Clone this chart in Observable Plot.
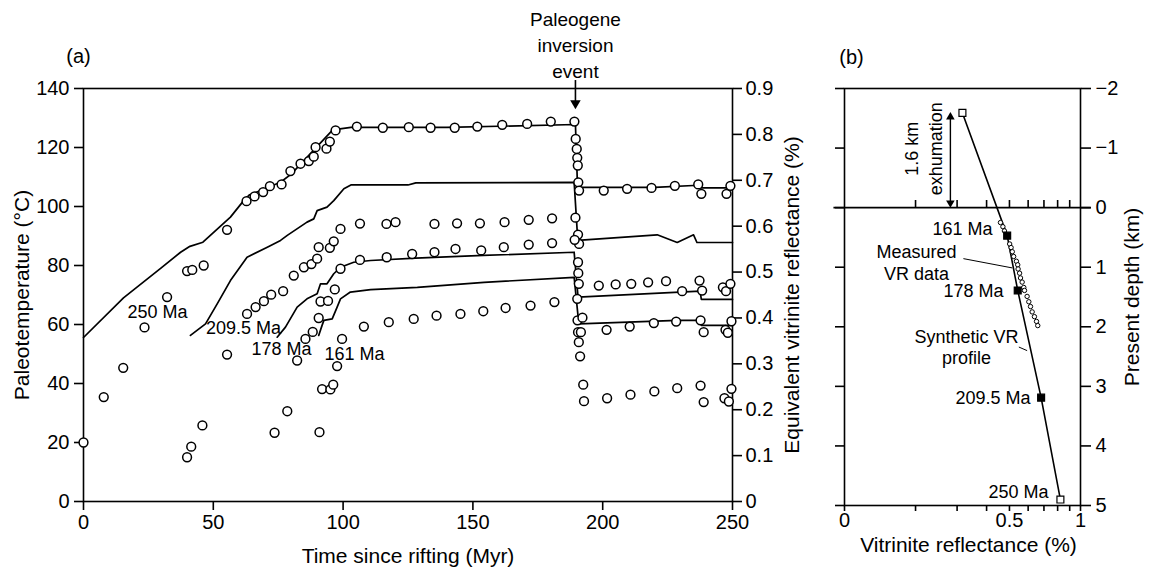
<!DOCTYPE html>
<html><head><meta charset="utf-8">
<script src="https://cdn.jsdelivr.net/npm/d3@7"></script>
<script src="https://cdn.jsdelivr.net/npm/@observablehq/plot@0.6"></script>
<style>
body{margin:0;background:#fff;}
#wrap{position:relative;width:1152px;height:571px;overflow:hidden;background:#fff;}
#wrap svg{position:absolute;top:0;}
</style></head><body><div id="wrap"></div>
<script>
// ---------- Panel (a) data: [time since rifting (Myr), paleotemperature (°C)] ----------
const line250 = [[0,55.6],[15.4,69],[29.7,79],[37.4,84.5],[41,86.5],[46,87.9],[56.6,96.4],[61.7,102],[64,104],[70,106],[76,108.3],[80,111],[88.6,119],[96,126],[103,126.8],[140,126.8],[189.5,127.8],[190.3,106.5],[220,106.5],[237,107.2],[238,106.3],[250,106.3]];
const line209 = [[41.2,56.3],[47,60.2],[51.5,67],[56.6,74.9],[63,82.8],[70.8,86.2],[75.9,88.5],[78.5,90.2],[86.1,94.7],[88.7,95.8],[90,98.6],[93.8,99.8],[96.4,102],[100.3,106],[103,107.3],[125,107.3],[128,108],[189,108.2],[190.4,88.5],[221,90.4],[228.7,87.8],[235,90.4],[236.3,87.8],[250,87.8]];
const line178 = [[74.6,55.7],[77.8,59.1],[82.3,65.9],[86.1,68.7],[90,70.4],[91.3,73.8],[93.8,73.8],[96.4,77.2],[99,79.4],[104.1,81.1],[110.6,81.7],[128,82.5],[154,83.4],[189,84.5],[190.5,69.3],[237.5,71.3],[238,68.5],[250,68.5]];
const line161 = [[90.6,56.3],[91.9,59.7],[92.6,61.4],[95.8,61.9],[97.7,65.9],[99,68.7],[102.8,71],[110.6,71.8],[128.6,72.6],[154.3,74.3],[189,76],[190.8,60.2],[228.7,61.4],[237.7,61.4],[238,59.7],[250,59.7]];

const circles250 = [[0,20],[7.8,35.4],[15.3,45.3],[23.5,59],[32.2,69.3],[39.9,78.1],[41.9,78.5],[46.3,80],[55.3,92.1],[62.8,101.8],[65.9,103.4],[69.2,104.9],[71.8,106.9],[76.3,107.5],[79.7,112],[83.6,114.5],[86.8,115.4],[88.7,116.9],[89.4,120.1],[93.6,119.6],[94.9,122],[97.1,125.8],[105.3,127.1],[115.3,126.7],[125.3,126.9],[133.7,126.7],[143,126.7],[151.7,127.1],[161.3,127.7],[170.9,128],[180,128.8],[189.1,128.8],[189.6,122.9],[190,119.5],[190.2,116.5],[190.4,113.9],[190.6,108.2],[190.9,105.4],[200.4,105.4],[209.4,106],[218.8,106.3],[227.8,107],[236.8,107.5],[238,104.3],[247.7,104.3],[249.2,107]];
const circles209 = [[39.9,15],[41.5,18.6],[45.8,25.8],[55.3,49.8],[63,63.6],[66.3,65.9],[69.5,67.9],[72.3,70.1],[76.9,71.3],[81,76.6],[84.9,79.4],[87.8,80.5],[90,82.3],[90.6,86.2],[94.9,86],[96.4,88.2],[99,92.4],[106.5,94.2],[116.7,94.1],[120.2,94.7],[135.2,94.1],[143.9,94.3],[152.7,94.3],[162.2,94.7],[171.5,95.5],[180.5,96],[189.5,96.2],[190.5,90.5],[190.9,87.3],[190.5,81.1],[190.6,77.4],[198.5,73.2],[205,73.6],[211,73.8],[217.5,74.3],[224.4,74.7],[230.6,71.3],[237.3,74.9],[238.3,71.5],[246.3,72.6],[247.5,71.3],[249.2,73.8]];
const circles178 = [[73.6,23.3],[78.5,30.6],[82.3,47.8],[85.5,55.1],[88.3,57.5],[90.6,62.2],[91.3,67.8],[94.2,68],[96.8,71.9],[99,78.9],[106.5,81.9],[116.8,82.8],[126.6,83.9],[135.2,84.5],[143.3,85.6],[153.2,85.1],[161.9,86.2],[171.5,87.1],[180.5,87.6],[189.2,88.7],[190.8,73.8],[190.3,61.4],[192.2,62.3],[201.5,58.2],[210.4,59.3],[219.7,60.5],[228.3,61],[237.7,61.4],[238.9,57.4],[247.3,58.2],[248.2,57.2],[249.6,61.1]];
const circles161 = [[90.9,23.5],[91.9,38.1],[95.1,38],[96.2,39.6],[97.7,45.9],[99.6,55.1],[108,59.3],[117.6,60.8],[127.2,61.9],[136,63],[145.2,63.6],[154,64.5],[162.6,65.6],[172.2,66.4],[181.4,67.6],[190.2,68.7],[190.5,57.4],[191.6,57.4],[190.8,54],[191.3,49.2],[192.5,39.6],[192.8,34],[201.7,35],[210.7,36.2],[219.9,37.3],[228.7,38.4],[237.7,39.3],[238.9,33.7],[246.9,35],[248.6,33.9],[249.6,38.2]];

const horizonNames = ["250 Ma", "209.5 Ma", "178 Ma", "161 Ma"];
const horizonLabelPos = [[28.5,64],[61.6,58.6],[76.3,51.5],[104.4,49.8]];
const timeTicks = [0, 50, 100, 150, 200, 250];
const tempTicks = [0, 20, 40, 60, 80, 100, 120, 140];
const vrTicksA = [0, 0.1, 0.2, 0.3, 0.4, 0.5, 0.6, 0.7, 0.8, 0.9];
const inversionTime = 189.5;

// ---------- Panel (b) data: vitrinite reflectance (%) vs present depth (km) ----------
const syntheticVR = [0.316, 0.489, 0.542, 0.681, 0.822];
const syntheticDepth = [-1.59, 0.47, 1.39, 3.19, 4.9];
const squareFilled = [false, true, true, true, false];
const squareLabels = ["", "161 Ma", "178 Ma", "209.5 Ma", "250 Ma"];
const squareLabelPos = [null, [0.424,0.37], [0.472,1.41], [0.614,3.2], [0.732,4.78]];
const measuredVR = [0.458,0.469,0.476,0.489,0.501,0.508,0.514,0.521,0.535,0.542,0.544,0.552,0.557,0.566,0.575,0.579,0.594,0.604,0.614,0.624,0.638,0.651,0.659];
const measuredDepth = [0.25,0.32,0.39,0.47,0.61,0.67,0.74,0.82,0.9,0.96,1.03,1.1,1.18,1.25,1.34,1.39,1.49,1.58,1.66,1.75,1.83,1.91,1.98];
const vrTicksB = [0.1,0.2,0.3,0.4,0.5,0.6,0.7,0.8,0.9,1];
const depthTicks = [-2,-1,0,1,2,3,4,5];
const exhumation = 1.6;

// ---------- build ----------
const FONT = '"Liberation Sans", Arial, sans-serif';
const SW = 1.6;
const pts = (arr, s) => arr.map(([t, T]) => ({t, T, s}));
const lineData = [line250, line209, line178, line161].flatMap((a, i) => pts(a, horizonNames[i]));
const circleData = [circles250, circles209, circles178, circles161].flatMap((a, i) => pts(a, horizonNames[i]));
const horizonLabels = horizonNames.map((n, i) => ({text: n, t: horizonLabelPos[i][0], T: horizonLabelPos[i][1]}));
const vrToT = v => v * 140 / 0.9;
const fmtVR = d => { const v = Math.round(d * 0.9 / 140 * 10) / 10; return v === 0 ? "0" : v.toFixed(1); };

const plotA = Plot.plot({
  width: 800, height: 571,
  marginLeft: 83, marginRight: 68, marginTop: 88, marginBottom: 70,
  style: {fontFamily: FONT, fontSize: "20px", color: "#000", background: "transparent", overflow: "visible"},
  x: {domain: [0, 250]},
  y: {domain: [0, 140]},
  marks: [
    Plot.frame({stroke: "#000", strokeWidth: SW}),
    Plot.axisX({ticks: timeTicks, tickSize: 9, tickPadding: 4, label: null, strokeWidth: SW}),
    Plot.axisY({anchor: "left", ticks: tempTicks, tickSize: 9, tickPadding: 5, label: null, strokeWidth: SW}),
    Plot.axisY({anchor: "right", ticks: vrTicksA.map(vrToT), tickFormat: fmtVR, tickSize: 9, tickPadding: 4, label: null, strokeWidth: SW}),
    Plot.line(lineData, {x: "t", y: "T", z: "s", stroke: "#000", strokeWidth: 1.7}),
    Plot.dot(circleData, {x: "t", y: "T", r: 4.4, stroke: "#000", fill: "#fff", strokeWidth: 1.5}),
    Plot.text(horizonLabels, {x: "t", y: "T", text: "text", fontSize: 18, fill: "#000"}),
    Plot.ruleX([inversionTime], {y1: 142.7, y2: 135, stroke: "#000", strokeWidth: 1.6}),
    Plot.dot([inversionTime], {x: d => d, y: 135, symbol: "triangle", rotate: 180, r: 3.9, fill: "#000", stroke: "none"}),
    Plot.text(["Paleogene\ninversion\nevent"], {x: inversionTime, y: 155.3, fontSize: 19, lineHeight: 1.38, fill: "#000"}),
    Plot.text(["Time since rifting (Myr)"], {frameAnchor: "bottom", dy: 55, lineAnchor: "middle", fontSize: 21, fill: "#000"}),
    Plot.text(["Paleotemperature (°C)"], {frameAnchor: "left", dx: -61, rotate: -90, textAnchor: "middle", lineAnchor: "middle", fontSize: 21, fill: "#000"}),
    Plot.text(["Equivalent vitrinite reflectance (%)"], {frameAnchor: "right", dx: 60, rotate: -90, textAnchor: "middle", lineAnchor: "middle", fontSize: 21, fill: "#000"}),
    Plot.text(["(a)"], {frameAnchor: "top-left", dx: -5, dy: -32, textAnchor: "middle", lineAnchor: "middle", fontSize: 20, fill: "#000"})
  ]
});

const synth = syntheticVR.map((v, i) => ({vr: v, depth: syntheticDepth[i], filled: squareFilled[i]}));
const measured = measuredVR.map((v, i) => ({vr: v, depth: measuredDepth[i]}));
const sqLabels = squareLabels.map((t, i) => squareLabelPos[i] ? {text: t, vr: squareLabelPos[i][0], depth: squareLabelPos[i][1]} : null).filter(Boolean);
const noteLabels = [
  {text: "Measured\nVR data", vr: 0.202, depth: 0.906},
  {text: "Synthetic VR\nprofile", vr: 0.329, depth: 2.33}
];
const leaders = [
  {x1: 0.319, y1: 0.856, x2: 0.514, y2: 1.012},
  {x1: 0.548, y1: 2.34, x2: 0.594, y2: 2.40}
];
const exhumX = 0.281;
const labelledB = [0.1, 0.5, 1];
const bTickFmt = d => d === 0.1 ? "0" : String(d);
const depthFmt = d => d < 0 ? "\u2212" + (-d) : String(d);

const plotB = Plot.plot({
  width: 372, height: 571,
  marginLeft: 64, marginRight: 72, marginTop: 88, marginBottom: 66,
  style: {fontFamily: FONT, fontSize: "20px", color: "#000", background: "transparent", overflow: "visible"},
  x: {type: "log", domain: [0.1, 1]},
  y: {domain: [5, -2]},
  marks: [
    Plot.frame({stroke: "#000", strokeWidth: SW}),
    Plot.axisX({ticks: vrTicksB, tickFormat: () => "", tickSize: 6, label: null, strokeWidth: SW}),
    Plot.axisX({ticks: labelledB, tickFormat: bTickFmt, tickSize: 0, tickPadding: 7, label: null}),
    Plot.axisY({anchor: "left", ticks: depthTicks, tickFormat: () => "", tickSize: 9, label: null, strokeWidth: SW}),
    Plot.axisY({anchor: "right", ticks: depthTicks, tickFormat: depthFmt, tickSize: 10, tickPadding: 5, label: null, strokeWidth: SW}),
    Plot.ruleY([0], {x1: 0.0902, x2: 1.11, stroke: "#000", strokeWidth: SW}),
    Plot.ruleX(vrTicksB.slice(1, -1), {y1: 0, y2: -0.12, stroke: "#000", strokeWidth: SW}),
    Plot.ruleX([exhumX], {y1: -0.06, y2: -exhumation + 0.06, stroke: "#000", strokeWidth: 1.4}),
    Plot.dot([exhumX], {x: d => d, y: -exhumation + 0.08, symbol: "triangle", r: 3.2, fill: "#000", stroke: "none"}),
    Plot.dot([exhumX], {x: d => d, y: -0.08, symbol: "triangle", rotate: 180, r: 3.2, fill: "#000", stroke: "none"}),
    Plot.text(["1.6 km\nexhumation"], {x: 0.214, y: -0.99, rotate: -90, lineHeight: 1.33, fontSize: 18, fill: "#000"}),
    Plot.line(synth, {x: "vr", y: "depth", stroke: "#000", strokeWidth: 1.6}),
    Plot.link(leaders, {x1: "x1", y1: "y1", x2: "x2", y2: "y2", stroke: "#000", strokeWidth: 1}),
    Plot.dot(measured, {x: "vr", y: "depth", r: 2.2, stroke: "#000", fill: "#fff", strokeWidth: 1}),
    Plot.dot(synth, {x: "vr", y: "depth", symbol: "square", r: 3.9, stroke: "#000", strokeWidth: 1.2, fill: d => d.filled ? "#000" : "#fff"}),
    Plot.text(sqLabels, {x: "vr", y: "depth", text: "text", textAnchor: "end", fontSize: 18, fill: "#000"}),
    Plot.text(noteLabels, {x: "vr", y: "depth", text: "text", lineHeight: 1.22, fontSize: 18, fill: "#000"}),
    Plot.text(["Vitrinite reflectance (%)"], {frameAnchor: "bottom", dy: 40, dx: 6, lineAnchor: "middle", fontSize: 21, fill: "#000"}),
    Plot.text(["Present depth (km)"], {frameAnchor: "right", dx: 52, rotate: -90, textAnchor: "middle", lineAnchor: "middle", fontSize: 21, fill: "#000"}),
    Plot.text(["(b)"], {frameAnchor: "top-left", dx: 7, dy: -31, textAnchor: "middle", lineAnchor: "middle", fontSize: 20, fill: "#000"})
  ]
});

const wrap = document.getElementById("wrap");
plotA.style.left = "0px";
plotB.style.left = "780px";
wrap.appendChild(plotA);
wrap.appendChild(plotB);
</script></body></html>
